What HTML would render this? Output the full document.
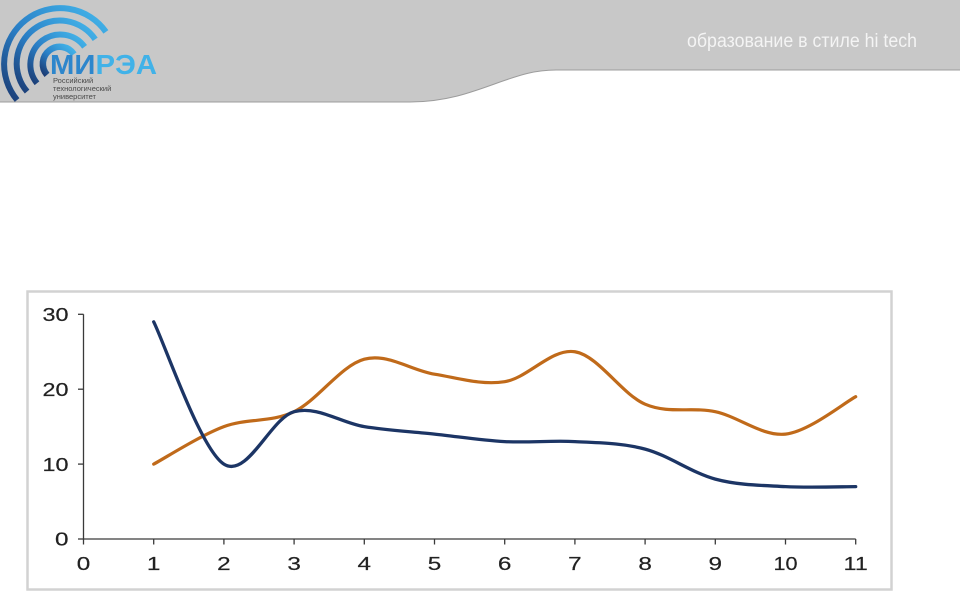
<!DOCTYPE html>
<html>
<head>
<meta charset="utf-8">
<style>
html,body{margin:0;padding:0;background:#fff;}
svg{display:block;}
</style>
</head>
<body>
<svg width="960" height="611" viewBox="0 0 960 611" xmlns="http://www.w3.org/2000/svg">
  <defs>
    <linearGradient id="lg" x1="0" y1="1" x2="1" y2="0">
      <stop offset="0" stop-color="#1b3a72"/>
      <stop offset="0.45" stop-color="#2a7fc6"/>
      <stop offset="1" stop-color="#45b8ec"/>
    </linearGradient>
  </defs>
  <rect width="960" height="611" fill="#ffffff"/>
  <!-- header band -->
  <path d="M0,0 H960 V70 H556 C535,70 520,75 500,82 C470,93 445,102 410,102 H0 Z" fill="#c8c8c8"/>
  <path d="M960,70 H556 C535,70 520,75 500,82 C470,93 445,102 410,102 H0" fill="none" stroke="#9c9c9c" stroke-width="1"/>
  <text x="687" y="47" font-family="Liberation Sans, sans-serif" font-size="19" fill="#f4f4f4" textLength="230" lengthAdjust="spacingAndGlyphs">образование в стиле hi tech</text>

  <!-- logo arcs -->
  <g fill="none" stroke="url(#lg)" stroke-linecap="butt">
    <path d="M17.1,100 A56,56 0 1 1 105.9,31.9" stroke-width="6"/>
    <path d="M27.1,91.6 A43,43 0 1 1 95.2,39.3" stroke-width="6"/>
    <path d="M37,83.3 A30,30 0 1 1 84.6,46.8" stroke-width="6"/>
    <path d="M47,74.9 A17,17 0 1 1 73.9,54.2" stroke-width="6.5"/>
  </g>
  <text x="50" y="74" font-family="Liberation Sans, sans-serif" font-size="28" font-weight="bold" textLength="107" lengthAdjust="spacingAndGlyphs"><tspan fill="#2d86cc">МИ</tspan><tspan fill="#41b2e8">РЭА</tspan></text>
  <g font-family="Liberation Sans, sans-serif" font-size="7.5" fill="#4a4a4a">
    <text x="53" y="83">Российский</text>
    <text x="53" y="91">технологический</text>
    <text x="53" y="99">университет</text>
  </g>

  <!-- chart frame -->
  <rect x="27.5" y="291.5" width="864" height="298" fill="#ffffff" stroke="#d2d2d2" stroke-width="2.5"/>

  <!-- axes -->
  <g stroke="#3a3a3a" stroke-width="1.3" fill="none">
    <line x1="83.5" y1="314.3" x2="83.5" y2="539"/>
    <line x1="83.5" y1="539" x2="855.7" y2="539"/>
    <line x1="78" y1="314.3" x2="83.5" y2="314.3"/>
    <line x1="78" y1="389.2" x2="83.5" y2="389.2"/>
    <line x1="78" y1="464.1" x2="83.5" y2="464.1"/>
    <line x1="78" y1="539" x2="83.5" y2="539"/>
    <line x1="83.5" y1="539" x2="83.5" y2="544.5"/>
    <line x1="153.7" y1="539" x2="153.7" y2="544.5"/>
    <line x1="223.9" y1="539" x2="223.9" y2="544.5"/>
    <line x1="294.1" y1="539" x2="294.1" y2="544.5"/>
    <line x1="364.3" y1="539" x2="364.3" y2="544.5"/>
    <line x1="434.5" y1="539" x2="434.5" y2="544.5"/>
    <line x1="504.7" y1="539" x2="504.7" y2="544.5"/>
    <line x1="574.9" y1="539" x2="574.9" y2="544.5"/>
    <line x1="645.1" y1="539" x2="645.1" y2="544.5"/>
    <line x1="715.3" y1="539" x2="715.3" y2="544.5"/>
    <line x1="785.5" y1="539" x2="785.5" y2="544.5"/>
    <line x1="855.7" y1="539" x2="855.7" y2="544.5"/>
  </g>
  <g font-family="Liberation Sans, sans-serif" font-size="18" fill="#222222" stroke="#222222" stroke-width="0.2">
    <g text-anchor="end">
      <text x="68.5" y="321" textLength="26" lengthAdjust="spacingAndGlyphs">30</text>
      <text x="68.5" y="395.9" textLength="26" lengthAdjust="spacingAndGlyphs">20</text>
      <text x="68.5" y="470.8" textLength="26" lengthAdjust="spacingAndGlyphs">10</text>
      <text x="68.5" y="545.7" textLength="13.5" lengthAdjust="spacingAndGlyphs">0</text>
    </g>
    <g text-anchor="middle">
      <text x="83.5" y="570" textLength="13.5" lengthAdjust="spacingAndGlyphs">0</text>
      <text x="153.7" y="570" textLength="13.5" lengthAdjust="spacingAndGlyphs">1</text>
      <text x="223.9" y="570" textLength="13.5" lengthAdjust="spacingAndGlyphs">2</text>
      <text x="294.1" y="570" textLength="13.5" lengthAdjust="spacingAndGlyphs">3</text>
      <text x="364.3" y="570" textLength="13.5" lengthAdjust="spacingAndGlyphs">4</text>
      <text x="434.5" y="570" textLength="13.5" lengthAdjust="spacingAndGlyphs">5</text>
      <text x="504.7" y="570" textLength="13.5" lengthAdjust="spacingAndGlyphs">6</text>
      <text x="574.9" y="570" textLength="13.5" lengthAdjust="spacingAndGlyphs">7</text>
      <text x="645.1" y="570" textLength="13.5" lengthAdjust="spacingAndGlyphs">8</text>
      <text x="715.3" y="570" textLength="13.5" lengthAdjust="spacingAndGlyphs">9</text>
      <text x="785.5" y="570" textLength="24" lengthAdjust="spacingAndGlyphs">10</text>
      <text x="855.7" y="570" textLength="24" lengthAdjust="spacingAndGlyphs">11</text>
    </g>
  </g>

  <!-- orange series -->
  <path fill="none" stroke="#c06a1a" stroke-width="3.2" stroke-linejoin="round" stroke-linecap="round"
    d="M153.7,464.1 C165.4,457.86 200.5,435.38 223.9,426.65 C247.3,417.92 270.7,422.94 294.1,411.7 C317.5,400.46 340.9,365.45 364.3,359.2 C387.7,352.95 411.1,370.45 434.5,374.2 C457.9,377.95 481.3,385.44 504.7,381.7 C528.1,377.96 551.5,347.99 574.9,351.75 C598.3,355.5 621.7,394.21 645.1,404.2 C668.5,414.19 691.9,406.72 715.3,411.7 C738.7,416.68 762.1,436.6 785.5,434.1 C808.9,431.6 844,402.93 855.7,396.7"/>
  <!-- blue series -->
  <path fill="none" stroke="#1c3565" stroke-width="3.3" stroke-linejoin="round" stroke-linecap="round"
    d="M153.7,321.8 C165.4,345.52 200.5,449.12 223.9,464.1 C247.3,479.08 270.7,417.94 294.1,411.7 C317.5,405.46 340.9,422.92 364.3,426.65 C387.7,430.38 411.1,431.61 434.5,434.1 C457.9,436.59 481.3,440.35 504.7,441.6 C528.1,442.85 551.5,440.35 574.9,441.6 C598.3,442.85 621.7,442.85 645.1,449.1 C668.5,455.35 691.9,472.85 715.3,479.1 C738.7,485.35 762.1,485.35 785.5,486.6 C808.9,487.85 844,486.6 855.7,486.6"/>
</svg>
</body>
</html>
